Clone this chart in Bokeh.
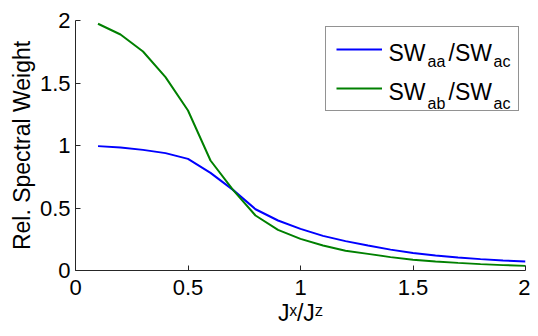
from bokeh.plotting import figure
from bokeh.models import Range1d, FixedTicker, Label, Legend, LegendItem
from bokeh.embed import file_html
from bokeh.resources import INLINE

# ---- data ----
jx = [0.1, 0.2, 0.3, 0.4, 0.5, 0.6, 0.7, 0.8, 0.9, 1.0,
      1.1, 1.2, 1.3, 1.4, 1.5, 1.6, 1.7, 1.8, 1.9, 2.0]
sw_aa = [0.995, 0.984, 0.965, 0.939, 0.893, 0.781, 0.645, 0.49, 0.40, 0.333,
         0.277, 0.235, 0.20, 0.167, 0.14, 0.12, 0.104, 0.091, 0.08, 0.072]
sw_ab = [1.974, 1.888, 1.752, 1.547, 1.28, 0.88, 0.645, 0.44, 0.325, 0.253,
         0.20, 0.158, 0.133, 0.107, 0.086, 0.072, 0.061, 0.051, 0.043, 0.037]
x_ticks = [0, 0.5, 1, 1.5, 2]
x_tick_labels = ["0", "0.5", "1", "1.5", "2"]
y_ticks = [0, 0.5, 1, 1.5, 2]
y_tick_labels = ["0", "0.5", "1", "1.5", "2"]
x_title = "J\u02e3/J\u1dbb"
y_title = "Rel. Spectral Weight"

FONT = "Liberation Sans"
AX = "#262626"

p = figure(width=530, height=328, output_backend="svg", toolbar_location=None,
           x_range=Range1d(0, 2), y_range=Range1d(0, 2),
           min_border_left=75, min_border_right=5, min_border_top=20,
           min_border_bottom=58)
p.grid.visible = False
p.outline_line_color = None
p.background_fill_color = "white"
p.border_fill_color = "white"

for ax, ticks, labels, stand in ((p.xaxis[0], x_ticks, x_tick_labels, 9),
                                 (p.yaxis[0], y_ticks, y_tick_labels, 5)):
    ax.ticker = FixedTicker(ticks=ticks)
    ax.major_label_overrides = {t: l for t, l in zip(ticks, labels)}
    ax.major_tick_in = 5
    ax.major_tick_out = 0
    ax.minor_tick_line_color = None
    ax.axis_line_color = AX
    ax.major_tick_line_color = AX
    ax.major_label_text_font = FONT
    ax.major_label_text_font_size = "22px"
    ax.major_label_text_color = "black"
    ax.major_label_standoff = stand
    ax.axis_label_text_font = FONT
    ax.axis_label_text_font_size = "23px"
    ax.axis_label_text_font_style = "normal"
    ax.axis_label_text_color = "black"

p.yaxis.axis_label = y_title
p.yaxis.axis_label_standoff = 2
p.xaxis.axis_label = x_title
p.xaxis.axis_label_standoff = 2

r1 = p.line(jx, sw_aa, line_color="#0000ff", line_width=2)
r2 = p.line(jx, sw_ab, line_color="#008000", line_width=2)

legend = Legend(items=[LegendItem(label=" ", renderers=[r1]),
                       LegendItem(label=" ", renderers=[r2])],
                location="top_right", margin=6, padding=10, spacing=15,
                glyph_width=46, glyph_height=24, label_height=24,
                label_width=121, label_standoff=5,
                border_line_color=AX, border_line_width=1,
                background_fill_alpha=0)
p.add_layout(legend)


def lab(text, x, y, size):
    # x, y in screen px relative to the plot frame's bottom-left corner
    p.add_layout(Label(x=x, y=y, x_units="screen", y_units="screen",
                       text=text, text_font=FONT, text_font_size=size,
                       text_baseline="alphabetic", text_align="left",
                       text_color="black"))


# legend texts: SW_aa/SW_ac and SW_ab/SW_ac
for base, sub, yb in ((218, "aa", 209.3), (178.3, "ab", 167.3)):
    lab("SW", 313, base, "23px")
    lab(sub, 352, yb, "16px")
    lab("/SW", 373, base, "23px")
    lab("ac", 418, yb, "16px")

open("out.html", "w").write(file_html(p, INLINE))
